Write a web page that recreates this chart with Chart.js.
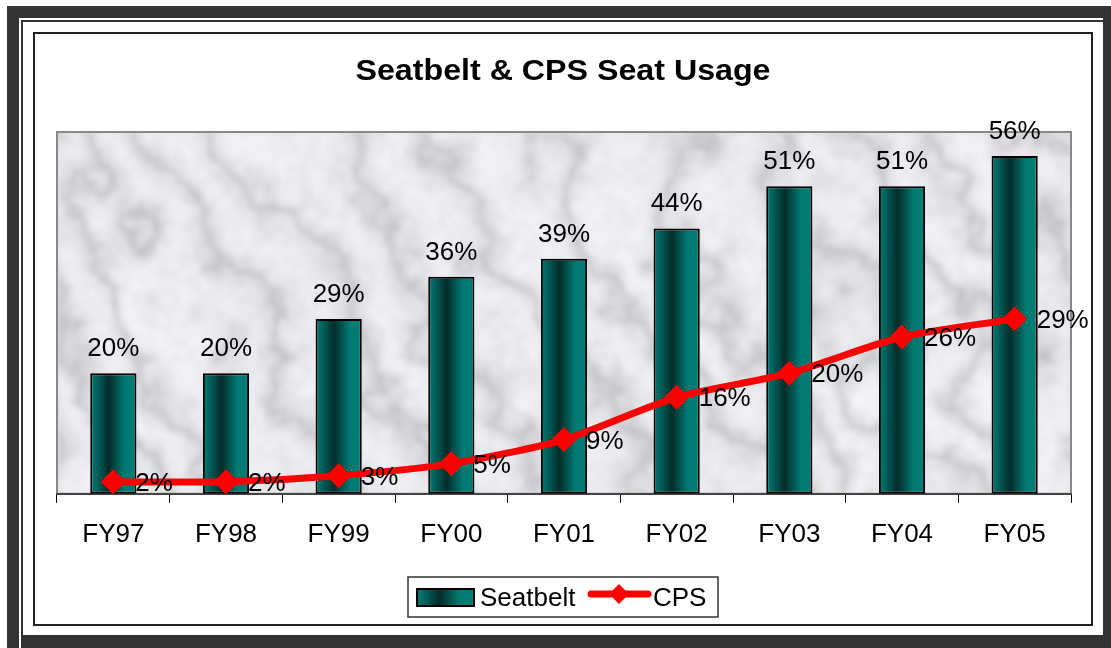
<!DOCTYPE html>
<html>
<head>
<meta charset="utf-8">
<script src="https://cdn.jsdelivr.net/npm/chart.js@4"></script>
<style>
    body { margin: 0; background: #fff; width: 1111px; height: 648px; overflow: hidden; position: relative; font-family: "Liberation Sans", Arial, sans-serif; }
    .band { position: absolute; background: #333; }
    #thin { position: absolute; left: 21px; top: 20px; width: 1090px; height: 620px; border-left: 2px solid #333; border-top: 2px solid #333; }
    #frame { position: absolute; left: 33px; top: 32px; width: 1060px; height: 594px; border: 2px solid #222; box-sizing: border-box; }
    #wrap { position: relative; width: 1056px; height: 590px; }
</style>
</head>
<body>
<div class="band" style="left:7px;top:6px;width:1104px;height:12px"></div>
<div class="band" style="left:7px;top:6px;width:12px;height:642px"></div>
<div class="band" style="left:1103px;top:6px;width:8px;height:642px"></div>
<div class="band" style="left:21px;top:635px;width:1090px;height:13px"></div>
<div id="thin"></div>
<div id="frame"><div id="wrap"><canvas id="usageChart"></canvas></div></div>

<script>
const years = ['FY97', 'FY98', 'FY99', 'FY00', 'FY01', 'FY02', 'FY03', 'FY04', 'FY05'];
const seatbelt = [20, 20, 29, 36, 39, 44, 51, 51, 56];
const cps = [2, 2, 3, 5, 9, 16, 20, 26, 29];
const titleText = 'Seatbelt & CPS Seat Usage';

const FONT = '"Liberation Sans", Arial, sans-serif';
const BAR_PCT = 0.41;

// teal bar shading, dark in the middle
function barGradient(ctx, x0, x1) {
    const g = ctx.createLinearGradient(x0, 0, x1, 0);
    g.addColorStop(0, '#007d76');
    g.addColorStop(0.4, '#042c2a');
    g.addColorStop(0.75, '#007a72');
    g.addColorStop(1, '#007d76');
    return g;
}

// grey marble texture for the plot area (hash value noise, fixed pattern)
function hash(ix, iy) {
    let h = ix * 374761393 + iy * 668265263;
    h = (h ^ (h >>> 13)) * 1274126177;
    h = h ^ (h >>> 16);
    return (h & 0xffff) / 0xffff;
}
function vnoise(x, y) {
    const ix = Math.floor(x), iy = Math.floor(y);
    const fx = x - ix, fy = y - iy;
    const sx = fx * fx * (3 - 2 * fx), sy = fy * fy * (3 - 2 * fy);
    const a = hash(ix, iy), b = hash(ix + 1, iy), c = hash(ix, iy + 1), d = hash(ix + 1, iy + 1);
    return a + (b - a) * sx + (c - a) * sy + (a - b - c + d) * sx * sy;
}
function fbm(x, y) {
    let v = 0, amp = 0.5, f = 1;
    for (let o = 0; o < 5; o++) {
        v += amp * vnoise(x * f, y * f);
        f *= 2;
        amp *= 0.5;
    }
    return v;
}
let marble = null;
function makeMarble(w, h) {
    const c = document.createElement('canvas');
    c.width = w;
    c.height = h;
    const mctx = c.getContext('2d');
    const img = mctx.createImageData(w, h);
    for (let y = 0; y < h; y++) {
        for (let x = 0; x < w; x++) {
            const n = fbm(x / 90, y / 90);
            const t = (x * 0.8 - y * 0.45) / 26 + n * 8;
            const vein = Math.abs(Math.sin(t));
            const grain = fbm(x / 7 + 40, y / 7 + 40);
            let v = 196 + 42 * Math.pow(vein, 0.55) + 20 * (grain - 0.5) + 16 * (n - 0.5);
            v = Math.max(172, Math.min(243, v));
            const i = (y * w + x) * 4;
            img.data[i] = v;
            img.data[i + 1] = v;
            img.data[i + 2] = v + 4;
            img.data[i + 3] = 255;
        }
    }
    mctx.putImageData(img, 0, 0);
    return c;
}

const frame = {
    id: 'frame',
    beforeDraw(chart) {
        const ctx = chart.ctx;
        const a = chart.chartArea;
        const w = Math.round(a.right - a.left), h = Math.round(a.bottom - a.top);
        if (!marble || marble.width !== w || marble.height !== h) marble = makeMarble(w, h);
        ctx.save();
        ctx.beginPath();
        ctx.rect(a.left, a.top, a.right - a.left, a.bottom - a.top);
        ctx.clip();
        ctx.fillStyle = '#dedee1';
        ctx.fillRect(a.left, a.top, a.right - a.left, a.bottom - a.top);
        ctx.filter = 'blur(2.5px)';
        ctx.drawImage(marble, a.left, a.top);
        ctx.restore();
        ctx.save();
        ctx.strokeStyle = '#888';
        ctx.lineWidth = 2;
        ctx.strokeRect(a.left, a.top, a.right - a.left, a.bottom - a.top);
        ctx.restore();

        // title, a bit wide like the original
        ctx.save();
        ctx.fillStyle = '#000';
        ctx.font = 'bold 29px ' + FONT;
        ctx.textAlign = 'center';
        ctx.textBaseline = 'alphabetic';
        ctx.translate(chart.width / 2, 46);
        ctx.scale(1.11, 1);
        ctx.fillText(titleText, 0, 0);
        ctx.restore();
    },
    afterDatasetsDraw(chart) {
        const ctx = chart.ctx;
        ctx.save();
        ctx.fillStyle = '#000';
        ctx.font = '26px ' + FONT;
        ctx.textBaseline = 'alphabetic';

        const barMeta = chart.getDatasetMeta(1);
        ctx.textAlign = 'center';
        barMeta.data.forEach((bar, i) => {
            ctx.fillText(seatbelt[i] + '%', bar.x, bar.y - 17);
        });

        const lineMeta = chart.getDatasetMeta(0);
        ctx.textAlign = 'left';
        lineMeta.data.forEach((pt, i) => {
            ctx.fillText(cps[i] + '%', pt.x + 22, pt.y + 9);
        });
        ctx.restore();

        // legend
        const cx = chart.width / 2;
        const lx = cx - 155, ly = 543;
        ctx.save();
        ctx.fillStyle = '#fff';
        ctx.fillRect(lx, ly, 310, 40);
        ctx.strokeStyle = '#333';
        ctx.lineWidth = 1.5;
        ctx.strokeRect(lx, ly, 310, 40);

        ctx.fillStyle = barGradient(ctx, lx + 9, lx + 66);
        ctx.fillRect(lx + 9, ly + 12, 57, 17);
        ctx.strokeStyle = '#000';
        ctx.lineWidth = 2;
        ctx.strokeRect(lx + 9, ly + 12, 57, 17);

        ctx.fillStyle = '#000';
        ctx.font = '26px ' + FONT;
        ctx.textAlign = 'left';
        ctx.textBaseline = 'alphabetic';
        ctx.fillText('Seatbelt', lx + 72, ly + 29);

        ctx.strokeStyle = '#ff0000';
        ctx.lineWidth = 7;
        ctx.lineCap = 'round';
        ctx.beginPath();
        ctx.moveTo(lx + 183, ly + 17);
        ctx.lineTo(lx + 240, ly + 17);
        ctx.stroke();
        ctx.fillStyle = '#ff0000';
        ctx.beginPath();
        ctx.moveTo(lx + 211, ly + 7);
        ctx.lineTo(lx + 221, ly + 17);
        ctx.lineTo(lx + 211, ly + 27);
        ctx.lineTo(lx + 201, ly + 17);
        ctx.closePath();
        ctx.fill();

        ctx.fillStyle = '#000';
        ctx.fillText('CPS', lx + 245, ly + 29);
        ctx.restore();
    }
};

new Chart(document.getElementById('usageChart').getContext('2d'), {
    type: 'bar',
    data: {
        labels: years,
        datasets: [
            {
                type: 'line',
                label: 'CPS',
                data: cps,
                borderColor: '#ff0000',
                backgroundColor: '#ff0000',
                borderWidth: 7,
                tension: 0.25,
                pointStyle: 'rectRot',
                pointRadius: 12,
                pointBorderWidth: 1,
                pointBackgroundColor: '#ff0000',
                pointBorderColor: '#ff0000',
                order: 0
            },
            {
                label: 'Seatbelt',
                data: seatbelt,
                backgroundColor: (c) => {
                    const x = c.chart.scales.x;
                    if (!x || c.dataIndex === undefined) return '#006060';
                    const mid = x.getPixelForValue(c.dataIndex);
                    const half = x.width / years.length * BAR_PCT / 2;
                    if (!Number.isFinite(mid) || !Number.isFinite(half) || half <= 0) return '#006060';
                    return barGradient(c.chart.ctx, mid - half, mid + half);
                },
                borderColor: '#000',
                borderWidth: 2,
                borderSkipped: false,
                categoryPercentage: 1,
                barPercentage: BAR_PCT,
                order: 1
            }
        ]
    },
    options: {
        responsive: true,
        maintainAspectRatio: false,
        animation: false,
        layout: { padding: { left: 22, right: 20, top: 98, bottom: 58 } },
        plugins: {
            legend: { display: false },
            title: { display: false },
            tooltip: { enabled: false }
        },
        scales: {
            x: {
                grid: { drawOnChartArea: false, color: '#000', tickLength: 9, offset: true },
                border: { color: '#444', width: 2 },
                ticks: { color: '#000', font: { size: 26, family: FONT }, padding: 16 }
            },
            y: {
                display: false,
                min: 0,
                max: 60
            }
        }
    },
    plugins: [frame]
});
</script>
</body>
</html>
